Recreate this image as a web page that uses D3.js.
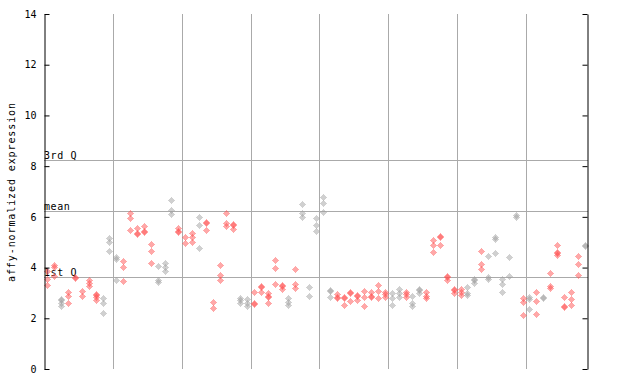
<!DOCTYPE html>
<html>
<head>
<meta charset="utf-8">
<script src="https://cdn.jsdelivr.net/npm/d3@7"></script>
<style>
  body { margin: 0; background: #fff; }
  text { font-family: "DejaVu Sans Mono", monospace; font-size: 10px; fill: #000; }
</style>
</head>
<body>
<svg id="chart" width="640" height="384"></svg>
<script>

// one entry per sample column, replicate values
var expr = [
    [3.88, 3.54, 3.31], [4.10, 4.02, 3.67], [2.75, 2.71, 2.60, 2.47], [3.05, 2.88, 2.59],
    [3.63, 3.59], [3.07, 2.88], [3.51, 3.38, 3.29], [2.95, 2.91, 2.85, 2.72],
    [2.79, 2.62, 2.20], [5.15, 5.02, 4.65], [4.43, 4.33, 3.51], [4.25, 4.01, 3.46],
    [6.14, 5.96, 5.47], [5.55, 5.38, 5.34], [5.64, 5.45, 5.41], [4.92, 4.65, 4.17],
    [4.06, 3.51, 3.43], [4.19, 4.01, 3.88], [6.66, 6.27, 6.11], [5.56, 5.45, 5.41],
    [5.19, 4.96], [5.38, 5.22, 5.02], [5.98, 5.68, 4.76], [5.81, 5.75, 5.48],
    [2.63, 2.39], [4.09, 3.69, 3.51], [6.14, 5.74, 5.63], [5.73, 5.69, 5.51],
    [2.81, 2.72, 2.59], [2.76, 2.62, 2.48], [3.02, 2.62, 2.58], [3.28, 3.24, 3.02],
    [2.98, 2.88, 2.84, 2.59], [4.30, 3.97, 3.34], [3.32, 3.28, 3.14], [2.79, 2.66, 2.52],
    [3.93, 3.34, 3.18], [6.49, 6.14, 6.00], [3.22, 2.88], [5.94, 5.68, 5.44],
    [6.77, 6.53, 6.18], [3.10, 3.06, 2.84], [2.95, 2.83, 2.79], [2.85, 2.81, 2.51],
    [3.02, 2.98, 2.68], [2.91, 2.87, 2.72], [3.07, 2.83, 2.47], [3.05, 2.89, 2.85],
    [3.31, 3.07, 2.79], [3.05, 2.95, 2.85], [2.98, 2.79, 2.51], [3.15, 2.98, 2.83],
    [3.05, 2.95, 2.83], [2.88, 2.59, 2.47], [3.14, 3.10, 3.01], [3.05, 2.88, 2.79],
    [5.09, 4.89, 4.63], [5.26, 5.22, 4.89], [3.68, 3.64, 3.51], [3.14, 3.10, 2.98],
    [3.14, 3.05, 2.92], [3.22, 2.98, 2.92], [3.56, 3.52, 3.38], [4.65, 4.14, 3.96],
    [4.44, 3.61, 3.54], [5.19, 5.11, 4.56], [3.54, 3.34, 3.02], [4.40, 3.65],
    [6.07, 6.00], [2.79, 2.66, 2.13], [2.85, 2.75, 2.35], [3.02, 2.67, 2.17],
    [2.85, 2.81], [3.77, 3.27, 3.18], [4.88, 4.63, 4.59, 4.50], [2.83, 2.50, 2.46],
    [3.02, 2.75, 2.51], [4.44, 4.13, 3.69], [4.88, 4.84]
];

// r = red marker, g = grey marker, per column
var colorKey = "rrgrrrrrgggrrrrrgggrrrgrrrrrggrrrrrgrgggggrrrrrrrrggrggrrrrrrggrgggggrgrgrrrrrgr";

var groupBreaks = [9.5, 19.5, 29.5, 39.5, 49.5, 59.5, 69.5];

var statNames = ["3rd Q", "mean", "1st Q"],
    statValues = [8.24, 6.23, 3.64];

var yTicks = [0, 2, 4, 6, 8, 10, 12, 14];

var svg = d3.select('#chart'),

    x = d3.scaleLinear().domain([-0.5, expr.length - 0.5]).range([44, 588]),

    y = d3.scaleLinear().domain([0, 14]).range([369, 14]),

    colors = { r: "#ff5050", g: "#a0a0a0" };

// checker patterns for the dotted diamonds
var defs = svg.append("defs");
Object.keys(colors).forEach(function(k) {
    var p = defs.append("pattern").attr("id", "pat-" + k)
        .attr("width", 2).attr("height", 2)
        .attr("patternUnits", "userSpaceOnUse");
    p.append("rect").attr("width", 1).attr("height", 1).attr("fill", colors[k]);
    p.append("rect").attr("x", 1).attr("y", 1).attr("width", 1).attr("height", 1).attr("fill", colors[k]);
});

// group separators
svg.append("g").selectAll("line")
    .data(groupBreaks).enter().append("line")
    .attr("x1", function(d) { return Math.round(x(d)) + 0.5; })
    .attr("x2", function(d) { return Math.round(x(d)) + 0.5; })
    .attr("y1", y(14)).attr("y2", y(0))
    .attr("stroke", "#aaaaaa");

// quartile / mean lines
svg.append("g").selectAll("line")
    .data(statValues).enter().append("line")
    .attr("x1", 44).attr("x2", 588)
    .attr("y1", function(d) { return Math.round(y(d)) + 0.5; })
    .attr("y2", function(d) { return Math.round(y(d)) + 0.5; })
    .attr("stroke", "#aaaaaa");

svg.append("g").selectAll("text")
    .data(statNames).enter().append("text")
    .attr("x", 44)
    .attr("y", function(d, i) { return Math.round(y(statValues[i])) - 1; })
    .style("letter-spacing", "0.6px")
    .text(function(d) { return d; });

// points
var pts = [];
expr.forEach(function(vals, i) {
    vals.forEach(function(v) { pts.push({ i: i, v: v, c: colorKey[i] }); });
});

svg.append("g").attr("shape-rendering", "crispEdges").selectAll("path")
    .data(pts).enter().append("path")
    .attr("d", "M0,-3.5L3.5,0L0,3.5L-3.5,0Z")
    .attr("transform", function(d) { return "translate(" + (Math.round(x(d.i)) + 0.5) + "," + (Math.round(y(d.v)) + 0.5) + ")"; })
    .attr("fill", function(d) { return "url(#pat-" + d.c + ")"; });

// axes
var left = svg.append("g").attr("transform", "translate(44.5,0)")
    .call(d3.axisLeft(y).tickValues(yTicks).tickSizeInner(-5).tickSizeOuter(0).tickPadding(8));

var right = svg.append("g").attr("transform", "translate(587.5,0)")
    .call(d3.axisRight(y).tickValues(yTicks).tickSizeInner(-5).tickSizeOuter(0).tickFormat(""));

[left, right].forEach(function(a) {
    a.selectAll("text").attr("font-family", null).attr("font-size", null);
    a.select(".domain").attr("stroke", "#000");
    a.selectAll(".tick line").attr("stroke", "#000");
});

svg.append("text")
    .attr("transform", "translate(15,192) rotate(-90)")
    .attr("text-anchor", "middle")
    .style("letter-spacing", "0.9px")
    .text("affy-normalized expression");

</script>
</body>
</html>
